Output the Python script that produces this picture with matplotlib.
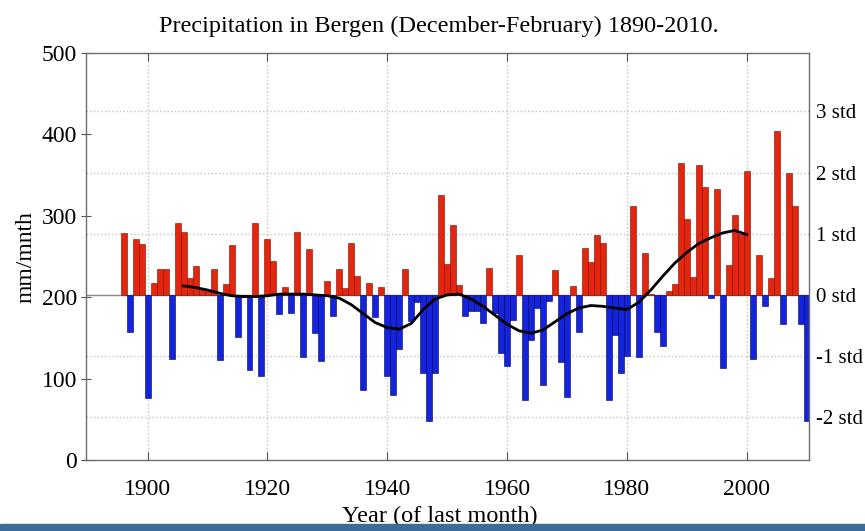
import numpy as np
import matplotlib.pyplot as plt
from matplotlib.patches import Rectangle

plt.rcParams["font.family"] = ["Liberation Serif", "DejaVu Serif"]

# Winter (Dec-Feb) precipitation, mm/month, by year of the last month
years = list(range(1896, 2011))
precip = [
    279, 158, 271, 266,                                   # 1896-1899
    76, 218, 235, 235, 125, 291, 280, 224, 239, 212,      # 1900s
    209, 235, 123, 216, 264, 152, 201, 111, 291, 103,     # 1910s
    271, 244, 180, 213, 181, 280, 127, 259, 156, 122,     # 1920s
    220, 177, 235, 212, 267, 226, 86, 218, 176, 213,      # 1930s
    103, 80, 137, 235, 171, 194, 107, 49, 107, 325,       # 1940s
    241, 289, 215, 177, 183, 183, 169, 236, 181, 132,     # 1950s
    116, 172, 252, 74, 148, 187, 92, 195, 233, 121,       # 1960s
    78, 214, 157, 261, 243, 276, 267, 74, 154, 107,       # 1970s
    128, 312, 127, 255, 204, 158, 140, 208, 216, 365,     # 1980s
    296, 225, 362, 335, 199, 333, 114, 240, 301, 278,     # 1990s
    355, 125, 252, 190, 224, 404, 167, 353, 312, 167,     # 2000s
    49,                                                   # 2010
]

# low-pass filtered series
smooth_years = list(range(1906, 2001, 2))
smooth_vals = [
    214, 212, 209, 205, 202, 201, 201, 202, 204, 204,     # 1906-1924
    204, 203, 202, 199, 191, 180, 169, 163, 161, 168,     # 1926-1944
    185, 198, 203, 204, 198, 189, 178, 167, 159, 156,     # 1946-1964
    160, 170, 180, 187, 190, 189, 187, 185, 194, 209,     # 1966-1984
    226, 242, 255, 266, 273, 279, 282, 277,               # 1986-2000
]

MEAN_MM = 203.0
STD_MM = 75.0
std_levels = [-2, -1, 0, 1, 2, 3]
mm_ticks = [0, 100, 200, 300, 400, 500]
year_ticks = [1900, 1920, 1940, 1960, 1980, 2000]

RED = "#e4260e"
BLUE = "#1424dc"

fig = plt.figure(figsize=(8.65, 5.31), dpi=100)
ax = fig.add_axes([0.0994, 0.1328, 0.8358, 0.768])

yrs = np.array(years)
vals = np.array(precip, dtype=float)
dev = vals - MEAN_MM
cols = np.where(dev >= 0, RED, BLUE)
edges = np.where(dev >= 0, "#7a0c00", "#00004a")

ax.axhline(MEAN_MM, color="#8c8c8c", lw=1.0, zorder=1)
ax.bar(yrs, dev, width=1.0, bottom=MEAN_MM, color=cols, edgecolor=edges,
       linewidth=0.4, zorder=2)
ax.plot(smooth_years, smooth_vals, color="black", lw=2.0, zorder=3)

ax.set_xlim(1889.7, 2010.4)
ax.set_ylim(0, 500)
ax.set_xticks(year_ticks)
ax.set_yticks(mm_ticks)
ax.tick_params(axis="x", direction="in", top=True, length=6,
               labelsize=17, color="#555555", pad=13)
ax.tick_params(axis="y", direction="inout", right=True, length=7,
               labelsize=17, color="#555555", pad=3)
ax.grid(axis="x", color="#c4c4c4", ls=":", lw=1.0)
ax.set_xlabel("Year (of last month)", fontsize=17.5)
ax.xaxis.set_label_coords(0.49, -0.111)
ax.set_ylabel("mm/mnth", fontsize=17)
ax.yaxis.set_label_coords(-0.069, 0.5)
for s in ax.spines.values():
    s.set_color("#6e6e6e")
    s.set_linewidth(1.0)

# std scale on the right
ax2 = ax.twinx()
ax2.set_ylim((0 - MEAN_MM) / STD_MM, (500 - MEAN_MM) / STD_MM)
ax2.set_yticks(std_levels)
ax2.set_yticklabels([f"{k} std" for k in std_levels])
ax2.tick_params(length=0, labelsize=15, pad=5)
ax2.grid(axis="y", color="#c4c4c4", ls=":", lw=1.0)
ax2.set_zorder(0)
ax.set_zorder(1)
ax.patch.set_visible(False)
for s in ax2.spines.values():
    s.set_visible(False)

fig.text(0.507, 1 - 32 / 531, "Precipitation in Bergen (December-February) 1890-2010.",
         ha="center", va="baseline", fontsize=17.5)

# strip along the bottom edge
fig.patches.append(Rectangle((0, 0), 1, 0.014, transform=fig.transFigure,
                             color="#3b6c9c", zorder=10))

fig.savefig("out.png", dpi=100)
